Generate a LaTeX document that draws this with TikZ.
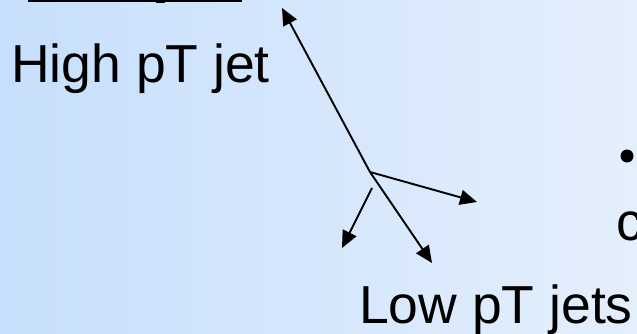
\documentclass[tikz,border=0pt]{standalone}
\usepackage{fontspec}
\setmainfont{Liberation Sans}
\usetikzlibrary{arrows.meta}
\definecolor{bgleft}{RGB}{199,223,252}
\definecolor{bgright}{RGB}{228,239,252}
\tikzset{
  label text/.style={inner sep=0pt, anchor=base west, font=\fontsize{53.5}{60}\selectfont},
  jet/.style={line width=1.9pt, -{Triangle[length=17pt,width=15pt]}},
}
\begin{document}
\begin{tikzpicture}[x=1pt,y=-1pt]
  % slide background
  \useasboundingbox (0,0) rectangle (637,334);
  \clip (0,0) rectangle (637,334);
  \shade[left color=bgleft, right color=bgright] (0,0) rectangle (637,334);

  % underline of the heading above the frame
  \fill[black] (28,-1) rectangle (242,2);
  \fill[black] (156,1) rectangle (165,3.5);

  % labels
  \node[label text] (high) at (11,83) {High pT jet};
  \node[label text] (low) at (359,323) {Low pT jets};
  \node[label text] (rest) at (616,240) {c};
  \node[circle, fill=black, inner sep=0pt, minimum size=13pt] (dot) at (627,156) {};

  % jet vertex and end points
  \coordinate (v) at (370,172);
  \coordinate (hiend) at (282,8);
  \coordinate (rend) at (477,202);
  \coordinate (dend) at (432,263);
  \coordinate (sstart) at (372,188);
  \coordinate (send) at (342,248);

  \draw[jet] (v) -- (hiend);
  \draw[jet] (v) -- (rend);
  \draw[jet] (v) -- (dend);
  \draw[jet] (sstart) -- (send);
\end{tikzpicture}
\end{document}
